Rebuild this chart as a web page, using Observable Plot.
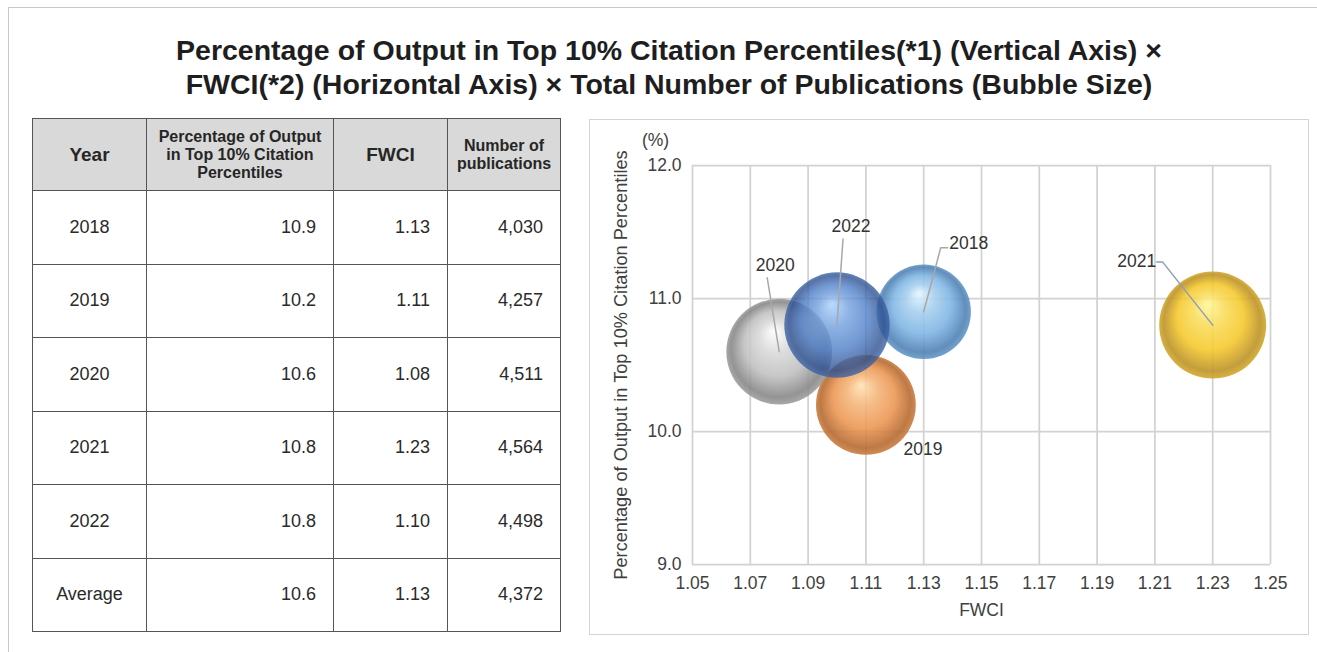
<!DOCTYPE html>
<html>
<head>
<meta charset="utf-8">
<script src="https://cdn.jsdelivr.net/npm/d3@7"></script>
<script src="https://cdn.jsdelivr.net/npm/@observablehq/plot@0.6"></script>
<style>
  html, body { margin: 0; padding: 0; background: #fff; }
  #page { position: relative; width: 1317px; height: 652px; overflow: hidden; font-family: "Liberation Sans", Arial, sans-serif; color: #262626; }
  #frameTop { position: absolute; left: 8px; top: 7px; width: 1320px; height: 0; border-top: 1.5px solid #c8c8c8; }
  #frameLeft { position: absolute; left: 8px; top: 7px; width: 0; height: 660px; border-left: 1.5px solid #c8c8c8; }
  #title { position: absolute; left: 20px; width: 1298px; top: 33px; text-align: center; font-weight: bold; font-size: 28.5px; line-height: 34px; color: #1e1e1e; white-space: nowrap; }
  #tbl { position: absolute; left: 32px; top: 118px; border-collapse: collapse; table-layout: fixed; }
  #tbl td, #tbl th { border: 1.5px solid #555; padding: 0; }
  #tbl th { background: #d9d9d9; font-weight: bold; font-size: 16px; line-height: 18px; text-align: center; height: 71px; color: #262626; }
  #tbl th.big { font-size: 19px; }
  #tbl td { font-size: 18px; height: 72.5px; color: #2a2a2a; }
  #tbl td.c { text-align: center; }
  #tbl td.r { text-align: right; padding-right: 17px; }
  #chart { position: absolute; left: 590px; top: 120px; width: 718px; height: 514px; outline: 1.5px solid #d4d4d4; }
</style>
</head>
<body>
<div id="page">
  <div id="frameTop"></div>
  <div id="frameLeft"></div>
  <div id="title">Percentage of Output in Top 10% Citation Percentiles(*1) (Vertical Axis) × <br>FWCI(*2) (Horizontal Axis) × Total Number of Publications (Bubble Size)</div>
  <table id="tbl"></table>
  <div id="chart"></div>
</div>
<script>
// ---- data ----
const years = ["2018", "2019", "2020", "2021", "2022"];
const top10Pct = [10.9, 10.2, 10.6, 10.8, 10.8];
const fwciVals = [1.13, 1.11, 1.08, 1.23, 1.10];
const publications = [4030, 4257, 4511, 4564, 4498];
const averageLabel = "Average";
const averageVals = [10.6, 1.13, 4372];
const headers = ["Year", "Percentage of Output<br>in Top 10% Citation<br>Percentiles", "FWCI", "Number of<br>publications"];
const xTicks = [1.05, 1.07, 1.09, 1.11, 1.13, 1.15, 1.17, 1.19, 1.21, 1.23, 1.25];
const yTicks = [9, 10, 11, 12];
const xLabel = "FWCI";
const yLabel = "Percentage of Output in Top 10% Citation Percentiles";
const yUnit = "(%)";

// ---- styles ----
const bubbleColors = {
  "2018": {hi: "#e2f6ff", mid: "#7db4e3", dark: "#4c7eb2", op: 0.88},
  "2019": {hi: "#ffe2b4", mid: "#ec9550", dark: "#b4672c", op: 0.88},
  "2020": {hi: "#ffffff", mid: "#bfbfbf", dark: "#858585", op: 0.88},
  "2021": {hi: "#fff79a", mid: "#f5c82a", dark: "#bb9022", op: 0.88},
  "2022": {hi: "#a9d2ff", mid: "#4f7fc8", dark: "#2d5090", op: 0.8}
};
const leaderColor = {"2018": "#a8a8a8", "2019": "#a8a8a8", "2020": "#a8a8a8", "2021": "#8f9dba", "2022": "#a8a8a8"};
// pixel offsets of labels / leader line paths from the bubble centre
const labelOffset = {"2018": [45, -68], "2019": [57, 44], "2020": [-4, -86], "2021": [-76, -64], "2022": [14, -99]};
const leaderPath = {
  "2018": [[0, 0], [17, -64], [24, -64]],
  "2020": [[0, 0], [-12, -74]],
  "2021": [[0, 0], [-50, -63], [-56, -63]],
  "2022": [[0, 0], [6, -86]]
};

// ---- table ----
const fmtN = d3.format(",");
let html = "<colgroup><col style='width:114px'><col style='width:187px'><col style='width:114px'><col style='width:113px'></colgroup>";
html += "<tr>" + headers.map((h, i) => `<th class="${i === 0 || i === 2 ? "big" : ""}">${h}</th>`).join("") + "</tr>";
years.forEach((y, i) => {
  html += `<tr><td class="c">${y}</td><td class="r">${top10Pct[i].toFixed(1)}</td><td class="r">${fwciVals[i].toFixed(2)}</td><td class="r">${fmtN(publications[i])}</td></tr>`;
});
html += `<tr><td class="c">${averageLabel}</td><td class="r">${averageVals[0].toFixed(1)}</td><td class="r">${averageVals[1].toFixed(2)}</td><td class="r">${fmtN(averageVals[2])}</td></tr>`;
document.getElementById("tbl").innerHTML = html;

// ---- chart ----
const W = 718, H = 514, mL = 102, mR = 38, mT = 45, mB = 70;
const xDom = [1.05, 1.25], yDom = [9, 12];
const pxX = (W - mL - mR) / (xDom[1] - xDom[0]);
const pxY = (H - mT - mB) / (yDom[1] - yDom[0]);

const rows = years.map((y, i) => ({year: y, pct: top10Pct[i], fwci: fwciVals[i], pubs: publications[i]}));
const leaderPts = rows.filter(d => leaderPath[d.year]).flatMap(d =>
  leaderPath[d.year].map(([ox, oy]) => ({year: d.year, x: d.fwci + ox / pxX, y: d.pct - oy / pxY}))
);

const plot = Plot.plot({
  width: W, height: H,
  marginLeft: mL, marginRight: mR, marginTop: mT, marginBottom: mB,
  x: {domain: xDom},
  y: {domain: yDom},
  r: {type: "linear", domain: [0, d3.max(publications)], range: [0, 53.5]},
  color: {type: "identity"},
  opacity: {type: "identity"},
  style: {fontFamily: "'Liberation Sans', Arial, sans-serif", fontSize: "17px", color: "#404040", background: "transparent"},
  marks: [
    Plot.gridX(xTicks, {stroke: "#d2d2d2", strokeOpacity: 1, strokeWidth: 1.75}),
    Plot.gridY(yTicks, {stroke: "#d2d2d2", strokeOpacity: 1, strokeWidth: 1.75}),
    Plot.axisX({ticks: xTicks, tickSize: 0, tickPadding: 12, tickFormat: d3.format(".2f"), label: null, fontSize: 17.5}),
    Plot.axisY({ticks: yTicks, tickSize: 0, tickPadding: 11, tickFormat: d3.format(".1f"), label: null, fontSize: 17.5}),
    Plot.text([xLabel], {frameAnchor: "bottom", lineAnchor: "middle", textAnchor: "middle", dy: 46, fontSize: 17.5, fill: "#404040"}),
    Plot.text([yLabel], {frameAnchor: "left", lineAnchor: "middle", textAnchor: "middle", dx: -71, rotate: -90, fontSize: 18.2, fill: "#404040"}),
    Plot.text([yUnit], {frameAnchor: "top-left", lineAnchor: "middle", textAnchor: "middle", dx: -37, dy: -25, fontSize: 17.5, fill: "#404040"}),
    Plot.dot(rows, {x: "fwci", y: "pct", r: "pubs", fill: d => `url(#ball${d.year})`, fillOpacity: d => bubbleColors[d.year].op, stroke: "none", sort: null}),
    Plot.line(leaderPts, {x: "x", y: "y", z: "year", stroke: d => leaderColor[d.year], strokeWidth: 1.5}),
    Plot.text(rows, {
      x: d => d.fwci + labelOffset[d.year][0] / pxX,
      y: d => d.pct - labelOffset[d.year][1] / pxY,
      text: "year", fontSize: 17.5, fill: "#333333"
    })
  ]
});

// sphere gradients
const svg = d3.select(plot);
const defs = svg.insert("defs", ":first-child");
for (const y of years) {
  const c = bubbleColors[y];
  const g = defs.append("radialGradient").attr("id", "ball" + y)
    .attr("cx", "50%").attr("cy", "50%").attr("r", "50%").attr("fx", "45%").attr("fy", "30%");
  g.append("stop").attr("offset", "0%").attr("stop-color", c.hi);
  g.append("stop").attr("offset", "30%").attr("stop-color", d3.interpolateRgb(c.hi, c.mid)(0.6));
  g.append("stop").attr("offset", "62%").attr("stop-color", c.mid);
  g.append("stop").attr("offset", "90%").attr("stop-color", c.dark);
  g.append("stop").attr("offset", "100%").attr("stop-color", d3.interpolateRgb(c.dark, c.mid)(0.4));
}
document.getElementById("chart").appendChild(plot);
</script>
</body>
</html>
